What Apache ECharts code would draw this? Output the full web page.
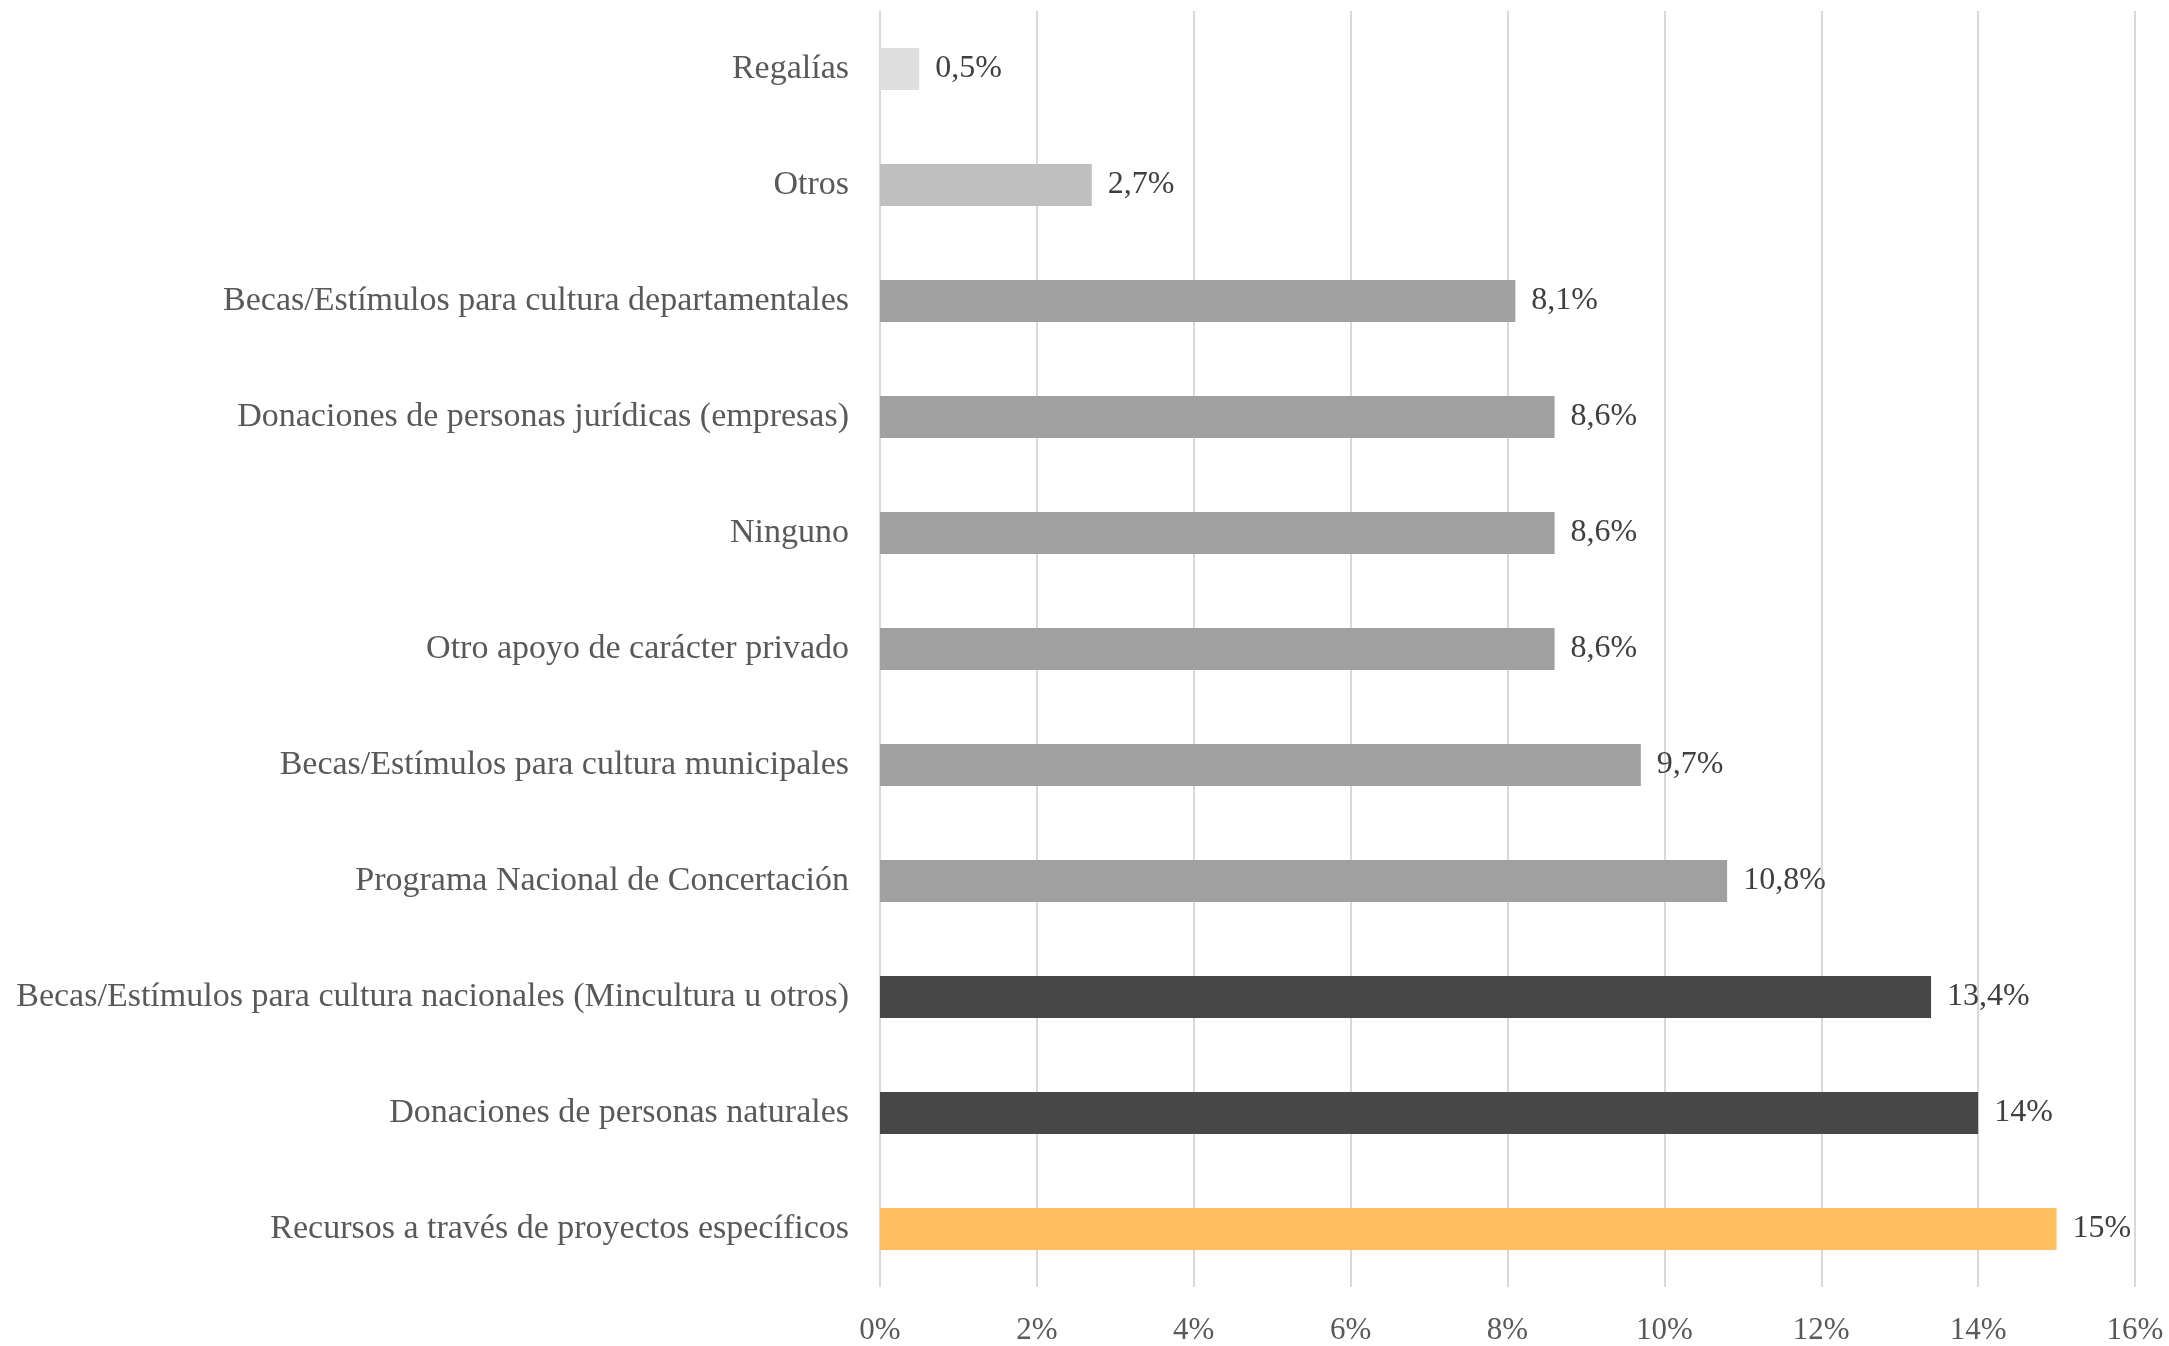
<!DOCTYPE html>
<html><head><meta charset="utf-8">
<script src="https://cdn.jsdelivr.net/npm/echarts@6/dist/echarts.min.js"></script>
<style>html,body{margin:0;padding:0;background:#fff}#c{width:2169px;height:1346px}</style>
</head><body><div id="c"></div>
<script>
const categories = [
  'Regalías',
  'Otros',
  'Becas/Estímulos para cultura departamentales',
  'Donaciones de personas jurídicas (empresas)',
  'Ninguno',
  'Otro apoyo de carácter privado',
  'Becas/Estímulos para cultura municipales',
  'Programa Nacional de Concertación',
  'Becas/Estímulos para cultura nacionales (Mincultura u otros)',
  'Donaciones de personas naturales',
  'Recursos a través de proyectos específicos'
];
const values = [0.5, 2.7, 8.1, 8.6, 8.6, 8.6, 9.7, 10.8, 13.4, 14, 15];
const barColors = ['#DFDFDF','#BFBFBF','#A0A0A0','#A0A0A0','#A0A0A0','#A0A0A0','#A0A0A0','#A0A0A0','#474747','#474747','#FFBE60'];
const xTicks = [0, 2, 4, 6, 8, 10, 12, 14, 16];

const FONT = '"Liberation Serif", serif';
const chart = echarts.init(document.getElementById('c'), null, {renderer: 'canvas'});
chart.setOption({
  animation: false,
  backgroundColor: '#ffffff',
  grid: {left: 880, right: 34, top: 11, bottom: 58, containLabel: false},
  xAxis: {
    type: 'value', min: xTicks[0], max: xTicks[xTicks.length - 1], interval: 2,
    axisLine: {show: false}, axisTick: {show: false},
    splitLine: {show: true, lineStyle: {color: '#D9D9D9', width: 2}},
    axisLabel: {formatter: v => v + '%', color: '#595959', fontFamily: FONT, fontSize: 31, margin: 28}
  },
  yAxis: {
    type: 'category', data: categories, inverse: true,
    axisLine: {show: false}, axisTick: {show: false},
    axisLabel: {color: '#595959', fontFamily: FONT, fontSize: 34, margin: 31}
  },
  series: [{
    type: 'bar',
    data: values.map((v, i) => ({value: v, itemStyle: {color: barColors[i]}})),
    barWidth: 42,
    label: {
      show: true, position: 'right', distance: 16,
      color: '#404040', fontFamily: FONT, fontSize: 32,
      formatter: p => String(p.value).replace('.', ',') + '%'
    }
  }]
});
</script></body></html>
